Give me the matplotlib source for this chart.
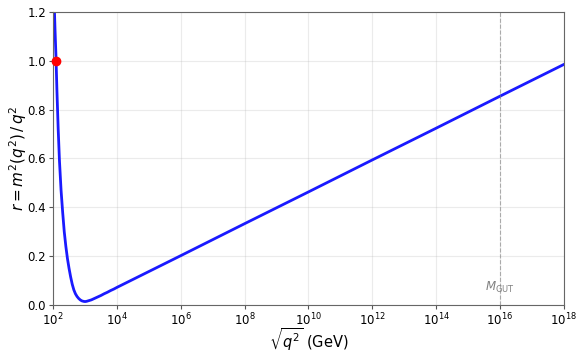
import numpy as np
import matplotlib
matplotlib.use('Agg')
import matplotlib.pyplot as plt

# curve: log10(sqrt(q^2)/GeV) and r
log_q = [2.03, 2.06, 2.09, 2.12, 2.16, 2.20, 2.25, 2.30, 2.35, 2.40,
         2.45, 2.50, 2.55, 2.60, 2.65, 2.70, 2.75, 2.80, 2.85, 2.90,
         2.95, 3.00, 3.05, 3.10, 3.20, 3.30, 3.40, 3.50, 3.60, 3.70,
         3.80, 3.90, 4.00, 6.00, 8.00, 10.0, 12.0, 14.0, 16.0, 18.0]
r_vals = [1.26, 1.13, 1.02, 0.88, 0.72, 0.59, 0.47, 0.38, 0.30, 0.24,
          0.19, 0.15, 0.115, 0.085, 0.062, 0.046, 0.035, 0.027, 0.021, 0.017,
          0.015, 0.014, 0.015, 0.017, 0.021, 0.027, 0.033, 0.039, 0.046, 0.052,
          0.059, 0.065, 0.072, 0.202, 0.333, 0.463, 0.594, 0.724, 0.855, 0.985]

# Higgs point and GUT scale
higgs_q = 125.0
higgs_r = 1.0
m_gut = 1e16

x_ticks = [1e2, 1e4, 1e6, 1e8, 1e10, 1e12, 1e14, 1e16, 1e18]
y_ticks = [0.0, 0.2, 0.4, 0.6, 0.8, 1.0, 1.2]

fig = plt.figure(figsize=(5.77, 3.53), dpi=100)
ax = fig.add_axes([0.092, 0.136, 0.885, 0.830])

q = np.power(10.0, log_q)
ax.plot(q, r_vals, color='#1a1aff', linewidth=2)
ax.plot(higgs_q, higgs_r, 'o', color='red', markersize=6, zorder=5, clip_on=False)

ax.axvline(m_gut, color='gray', linestyle='--', linewidth=0.8, alpha=0.6)
ax.text(m_gut, 0.07, r'$M_{\rm GUT}$', color='gray', fontsize=8.5,
        ha='center', va='center')

ax.set_xscale('log')
ax.set_xlim(1e2, 1e18)
ax.set_ylim(0, 1.2)
ax.set_xticks(x_ticks)
ax.xaxis.set_minor_locator(matplotlib.ticker.NullLocator())
ax.set_yticks(y_ticks)
ax.tick_params(labelsize=8.5, length=3, pad=2, color='#555555')
ax.grid(True, alpha=0.25)
for sp in ax.spines.values():
    sp.set_color('#666666')

ax.set_xlabel(r'$\sqrt{q^2}$ (GeV)', fontsize=10.5, labelpad=-1)
ax.set_ylabel(r'$r = m^2(q^2)\,/\,q^2$', fontsize=11, labelpad=-1)

fig.savefig('out.png', dpi=100)
